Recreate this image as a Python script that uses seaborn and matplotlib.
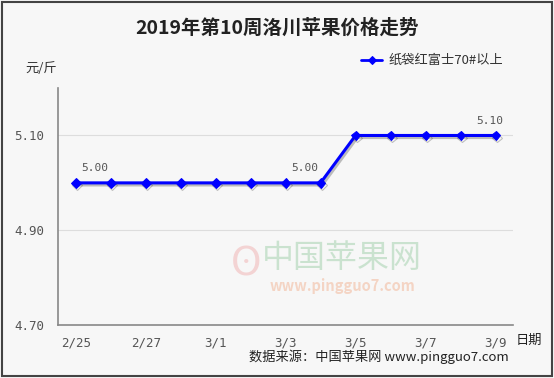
import matplotlib
matplotlib.use("Agg")
import matplotlib.pyplot as plt
import matplotlib.patheffects as pe
import seaborn as sns
import pandas as pd

dates = ["2/25", "2/26", "2/27", "2/28", "3/1", "3/2", "3/3", "3/4",
         "3/5", "3/6", "3/7", "3/8", "3/9"]
prices = [5.00, 5.00, 5.00, 5.00, 5.00, 5.00, 5.00, 5.00,
          5.10, 5.10, 5.10, 5.10, 5.10]
series_name = "纸袋红富士70#以上"
label_idx = [0, 6, 12]
yticks = [4.70, 4.90, 5.10]

sns.set_style("white")
plt.rcParams['font.family'] = ['Noto Sans CJK SC', 'DejaVu Sans']

df = pd.DataFrame({"date": dates, "price": prices, "x": range(len(dates))})

bg = "#f7f7f7"
fig = plt.figure(figsize=(5.54, 3.78), dpi=100, facecolor=bg)
ax = fig.add_axes([0.105, 0.140, 0.821, 0.627])
ax.set_facecolor(bg)

# watermark
fig.text(0.618, 0.318, "中国苹果网", fontsize=23, color="#9fcfa9", alpha=0.5,
         ha="center", va="center", zorder=0)
fig.text(0.618, 0.243, "www.pingguo7.com", fontsize=10.5, color="#f2b89a", alpha=0.55,
         ha="center", va="center", fontstyle="italic", fontweight="bold", zorder=0)
fig.text(0.445, 0.30, "ʘ", fontsize=28, color="#f0a8a8", alpha=0.45,
         ha="center", va="center", zorder=0)

shadow = [pe.SimpleLineShadow(offset=(1.2, -1.5), shadow_color="#333333", alpha=0.3), pe.Normal()]
sns.lineplot(data=df, x="x", y="price", ax=ax, color="#0000ff", linewidth=2.2,
             marker="D", markersize=5, markeredgecolor="#0000ff", label=series_name,
             path_effects=shadow)

offsets = {0: 14, 6: 14, 12: -4}
for i in label_idx:
    ax.annotate(f"{prices[i]:.2f}", (i, prices[i]), xytext=(offsets[i], 7), textcoords="offset points",
                ha="center", va="bottom", fontsize=8, color="#555555", family="DejaVu Sans Mono")

ax.set_xlim(-0.5, len(dates) - 0.5)
ax.set_ylim(4.70, 5.20)
ax.set_yticks(yticks)
ax.set_yticklabels([f"{v:.2f}" for v in yticks], family="DejaVu Sans Mono", fontsize=9, color="#555555")
ax.set_xticks(range(0, len(dates), 2))
ax.set_xticklabels(dates[::2], family="DejaVu Sans Mono", fontsize=9, color="#555555")
ax.set_xticks([i + 0.5 for i in range(-1, len(dates))], minor=True)
ax.tick_params(axis="x", which="major", length=0, pad=8)
ax.tick_params(axis="x", which="minor", length=4, direction="in", color="#888888", width=1)
ax.tick_params(axis="y", length=4, direction="out", color="#888888", pad=6)
ax.yaxis.grid(True, color="#dddddd", linewidth=0.8)
ax.set_axisbelow(True)
for s in ["top", "right"]:
    ax.spines[s].set_visible(False)
for s in ["left", "bottom"]:
    ax.spines[s].set_color("#888888")
    ax.spines[s].set_linewidth(1.2)
ax.set_xlabel("")
ax.set_ylabel("")

leg = ax.legend(loc="center left", bbox_to_anchor=(0.64, 1.115), frameon=False,
                fontsize=9.5, handlelength=1.6, handletextpad=0.5, labelcolor="#333333")
for h in leg.legend_handles:
    h.set_markersize(4)
    h.set_linewidth(2)
    h.set_path_effects([])

fig.text(0.5, 0.925, "2019年第10周洛川苹果价格走势", ha="center", va="center",
         fontsize=14, fontweight="bold", color="#222222")
fig.text(0.075, 0.82, "元/斤", ha="center", va="center", fontsize=9.5, color="#333333")
fig.text(0.93, 0.10, "日期", ha="left", va="center", fontsize=9.5, color="#222222")
fig.text(0.918, 0.055, "数据来源：中国苹果网 www.pingguo7.com", ha="right", va="center",
         fontsize=9.5, color="#222222", family=["Noto Sans CJK SC", "DejaVu Sans Mono"])

# outer frame
fig.patches.append(plt.Rectangle((0.003, 0.004), 0.994, 0.992, transform=fig.transFigure,
                                 fill=False, edgecolor="#444444", linewidth=1.5))

fig.savefig("out.png", dpi=100, facecolor=bg)
